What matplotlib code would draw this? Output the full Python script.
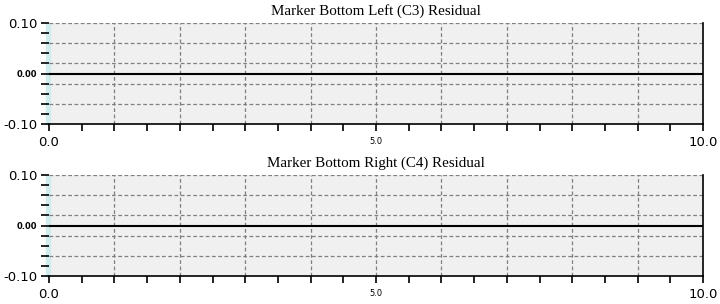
import numpy as np
import matplotlib.pyplot as plt
from matplotlib.patches import Rectangle

titles = ["Marker Bottom Left (C3) Residual", "Marker Bottom Right (C4) Residual"]
res_x = [0.0, 10.0]
res_y = [[0.0, 0.0], [0.0, 0.0]]

x_ticks = np.arange(0, 10.01, 0.5)
x_labels = {0.0: "0.0", 5.0: "5.0", 10.0: "10.0"}
x_grid = [1, 2, 3, 4, 5, 6, 7, 8, 9]
y_ticks = np.round(np.arange(-0.10, 0.101, 0.02), 2)
y_labels = {0.10: "0.10", 0.0: "0.00", -0.10: "-0.10"}
y_grid = [0.10, 0.06, 0.02, -0.02, -0.06]

fig = plt.figure(figsize=(7.2, 3.04), dpi=100)
boxes = [[49/720, 1-124/304, 654/720, 101/304],
         [49/720, 1-276/304, 654/720, 101/304]]

for i in range(2):
    ax = fig.add_axes(boxes[i])
    ax.set_facecolor("#f0f0f0")
    ax.set_xlim(0, 10)
    ax.set_ylim(-0.10, 0.10)
    for g in x_grid:
        ax.axvline(g, color="#808080", lw=0.9, ls=(0, (3, 2)), zorder=1)
    for g in y_grid:
        ax.axhline(g, color="#808080", lw=0.9, ls=(0, (3, 2)), zorder=1)
    ax.plot(res_x, res_y[i], color="black", lw=1.5, zorder=3)

    ax.spines["top"].set_visible(False)
    ax.spines["left"].set_visible(False)
    ax.spines["right"].set_color("black")
    ax.spines["bottom"].set_color("black")
    ax.spines["right"].set_linewidth(1.2)
    ax.spines["bottom"].set_linewidth(1.2)

    ax.set_xticks(x_ticks)
    ax.set_xticklabels([x_labels.get(float(t), "") for t in x_ticks])
    ax.set_yticks(y_ticks)
    ax.set_yticklabels([y_labels.get(float(t), "") for t in y_ticks])
    ax.tick_params(axis="x", length=5, width=1.2, pad=4, labelsize=9.5)
    ax.tick_params(axis="y", length=6, width=1.2, pad=2.5, labelsize=9.5)
    for lab in ax.get_xticklabels():
        if lab.get_text() == "5.0":
            lab.set_fontsize(6)
    for lab in ax.get_yticklabels():
        if lab.get_text() == "0.00":
            lab.set_fontsize(6)
            lab.set_fontweight("bold")

    ax.add_patch(Rectangle((-3/654, 0), 4/654, 1, transform=ax.transAxes,
                           color="#d0ecec", clip_on=False, zorder=0))
    ax.set_title(titles[i], fontsize=10.8, family="Liberation Serif", pad=6)

fig.savefig("out.png", dpi=100)
